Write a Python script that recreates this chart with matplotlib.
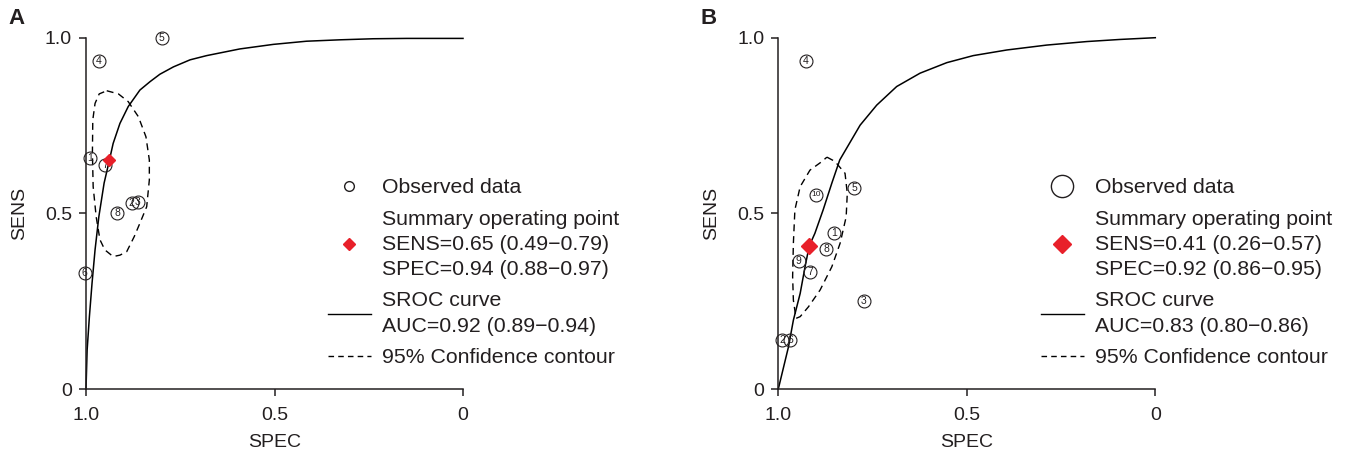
import numpy as np
import matplotlib
matplotlib.use("Agg")
import matplotlib.pyplot as plt
from matplotlib.lines import Line2D

plt.rcParams['font.family'] = ['Liberation Sans', 'DejaVu Sans']

ink = '#231f20'
red = '#e8202a'

# panel A: observed studies (specificity, sensitivity)
a_ids = [1, 2, 3, 4, 5, 6, 7, 8]
a_spec = [0.989, 0.879, 0.862, 0.966, 0.799, 1.003, 0.950, 0.917]
a_sens = [0.657, 0.530, 0.532, 0.933, 1.000, 0.331, 0.638, 0.500]
a_summary = (0.938, 0.651)

# SROC curve A
a_curve_spec = [1.0, 0.997, 0.991, 0.984, 0.976, 0.966, 0.952, 0.938, 0.928, 0.910,
                0.888, 0.857, 0.830, 0.804, 0.768, 0.724, 0.680, 0.592, 0.503, 0.415,
                0.326, 0.238, 0.149, 0.0]
a_curve_sens = [0.0, 0.111, 0.206, 0.301, 0.396, 0.490, 0.586, 0.651, 0.699, 0.756,
                0.804, 0.851, 0.875, 0.896, 0.917, 0.937, 0.949, 0.968, 0.981, 0.990,
                0.994, 0.997, 0.998, 0.998]

# confidence contour A
a_ell_spec = [0.945, 0.914, 0.888, 0.861, 0.841, 0.832, 0.832, 0.839, 0.857, 0.872,
              0.892, 0.910, 0.928, 0.950, 0.963, 0.973, 0.981, 0.983, 0.982, 0.976,
              0.965, 0.945]
a_ell_sens = [0.849, 0.840, 0.818, 0.775, 0.718, 0.652, 0.595, 0.519, 0.472, 0.434,
              0.391, 0.381, 0.377, 0.396, 0.425, 0.490, 0.576, 0.671, 0.766, 0.813,
              0.840, 0.849]

# panel B
b_ids = [1, 2, 3, 4, 5, 6, 7, 8, 9, 10]
b_spec = [0.852, 0.990, 0.773, 0.927, 0.798, 0.968, 0.915, 0.873, 0.946, 0.900]
b_sens = [0.443, 0.139, 0.250, 0.934, 0.571, 0.139, 0.333, 0.399, 0.364, 0.553]
b_summary = (0.918, 0.407)

b_curve_spec = [1.0, 0.973, 0.960, 0.942, 0.929, 0.918, 0.903, 0.881, 0.858, 0.837,
                0.819, 0.783, 0.739, 0.686, 0.624, 0.553, 0.483, 0.394, 0.288, 0.182,
                0.094, 0.0]
b_curve_sens = [0.0, 0.120, 0.196, 0.272, 0.348, 0.407, 0.443, 0.510, 0.586, 0.652,
                0.685, 0.751, 0.808, 0.861, 0.899, 0.929, 0.949, 0.965, 0.979, 0.989,
                0.995, 1.0]

b_ell_spec = [0.871, 0.850, 0.823, 0.817, 0.820, 0.836, 0.858, 0.889, 0.920, 0.942,
              0.953, 0.960, 0.962, 0.960, 0.956, 0.942, 0.916, 0.885, 0.871]
b_ell_sens = [0.660, 0.648, 0.614, 0.557, 0.490, 0.415, 0.348, 0.282, 0.234, 0.206,
              0.201, 0.253, 0.320, 0.415, 0.510, 0.576, 0.623, 0.647, 0.660]

a_labels = ['Observed data',
            'Summary operating point\nSENS=0.65 (0.49\u22120.79)\nSPEC=0.94 (0.88\u22120.97)',
            'SROC curve\nAUC=0.92 (0.89\u22120.94)',
            '95% Confidence contour']
b_labels = ['Observed data',
            'Summary operating point\nSENS=0.41 (0.26\u22120.57)\nSPEC=0.92 (0.86\u22120.95)',
            'SROC curve\nAUC=0.83 (0.80\u22120.86)',
            '95% Confidence contour']

W, H = 1347, 457
fig = plt.figure(figsize=(W / 100, H / 100), dpi=100)


def panel(left_px, letter, ids, spec, sens, summary, cspec, csens, espec, esens,
          labels, leg_px, circ_ms, diam_ms, leg_circ, leg_diam):
    ax = fig.add_axes([left_px / W, (H - 389) / H, 377 / W, 351.3 / H])
    ax.set_xlim(1, 0)
    ax.set_ylim(0, 1)
    for s in ['top', 'right']:
        ax.spines[s].set_visible(False)
    for s in ['left', 'bottom']:
        ax.spines[s].set_color(ink)
        ax.spines[s].set_linewidth(1.1)
    ax.set_xticks([1, 0.5, 0])
    ax.set_xticklabels(['1.0', '0.5', '0'])
    ax.set_yticks([0, 0.5, 1])
    ax.set_yticklabels(['0', '0.5', '1.0'])
    ax.tick_params(direction='out', length=5, width=1.1, color=ink,
                   labelsize=14, labelcolor=ink, pad=5)
    ax.tick_params(axis='x', pad=8)
    ax.set_xlabel('SPEC', fontsize=14, color=ink, labelpad=7)
    ax.set_ylabel('SENS', fontsize=14, color=ink, labelpad=12)

    ax.plot(cspec, csens, color='black', lw=1.1, clip_on=False, zorder=2)
    ax.plot(espec, esens, color='black', lw=1.0, dashes=(5, 3.5), zorder=2)
    ax.plot(spec, sens, 'o', ms=circ_ms, mfc='none', mec=ink, mew=0.8,
            clip_on=False, zorder=3)
    for i, x, y in zip(ids, spec, sens):
        ax.text(x, y, str(i), fontsize=7.5 if i < 10 else 6, color=ink,
                ha='center', va='center', zorder=4, clip_on=False)
    ax.plot([summary[0]], [summary[1]], 'D', ms=diam_ms, color=red, mec=red,
            zorder=5, clip_on=False)

    handles = [Line2D([], [], marker='o', ls='none', ms=leg_circ, mfc='none', mec=ink, mew=1.0),
               Line2D([], [], marker='D', ls='none', ms=leg_diam, color=red),
               Line2D([], [], color='black', lw=1.0),
               Line2D([], [], color='black', lw=1.0, dashes=(4, 3))]
    leg = ax.legend(handles, labels, loc='upper left',
                    bbox_to_anchor=(leg_px[0] / W, 1 - leg_px[1] / H),
                    bbox_transform=fig.transFigure, frameon=False, fontsize=15.3,
                    borderpad=0, borderaxespad=0, handlelength=2.0,
                    handletextpad=0.55, labelspacing=0.6)
    for t in leg.get_texts():
        t.set_color(ink)
        t.set_linespacing(1.4)
    fig.text((left_px - 78) / W, 1 - 18 / H, letter, fontsize=16, fontweight='bold',
             color=ink, ha='left', va='center')
    return ax


panel(86, 'A', a_ids, a_spec, a_sens, a_summary, a_curve_spec, a_curve_sens,
      a_ell_spec, a_ell_sens, a_labels, (328, 178), 9.3, 6.4, 7.0, 6.6)
panel(778.3, 'B', b_ids, b_spec, b_sens, b_summary, b_curve_spec, b_curve_sens,
      b_ell_spec, b_ell_sens, b_labels, (1041, 178), 9.3, 8.1, 16, 8.7)

fig.savefig('out.png', dpi=100)
